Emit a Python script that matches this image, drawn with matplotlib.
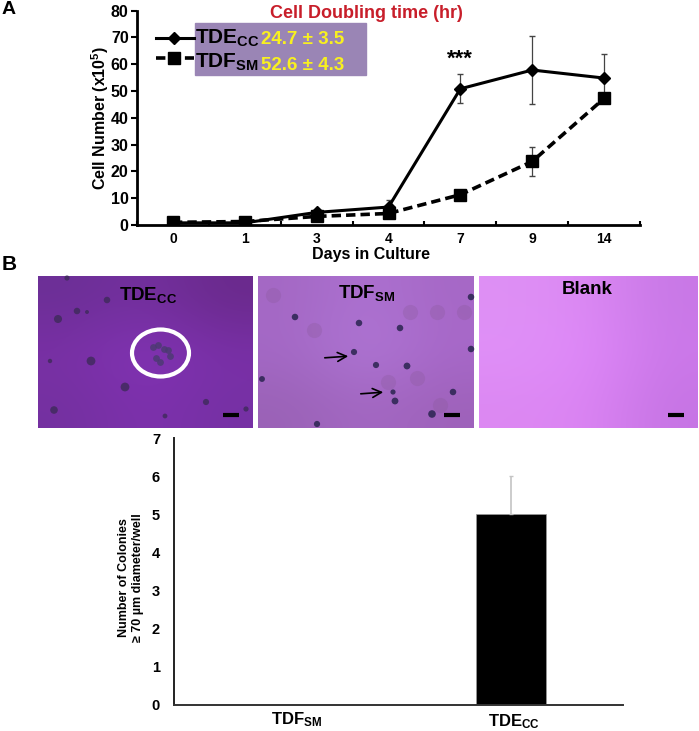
#!/usr/bin/env python3
# Cell growth figure: line chart (A), photo panels and colony bar chart (B)
import numpy as np
import matplotlib
matplotlib.use('Agg')
import matplotlib.pyplot as plt
from matplotlib.patches import Ellipse, Rectangle

plt.rcParams['font.family'] = ['Liberation Sans', 'DejaVu Sans']
plt.rcParams['font.weight'] = 'bold'
plt.rcParams['axes.labelweight'] = 'bold'
plt.rcParams['mathtext.fontset'] = 'custom'
plt.rcParams['mathtext.rm'] = 'Liberation Sans:bold'
plt.rcParams['mathtext.default'] = 'rm'

# Panel A data
days = ['0', '1', '3', '4', '7', '9', '14']
tde_cc = [0.8, 0.8, 4.7, 6.7, 50.8, 57.8, 54.8]
tde_err = [0.3, 0.3, 0.8, 2.8, 5.4, 12.8, 8.8]
tdf_sm = [1.0, 1.3, 3.2, 4.3, 11.3, 23.7, 47.2]
tdf_err = [0.3, 0.4, 0.6, 0.8, 1.0, 5.3, 1.8]

# Panel B bar data
bar_names = ['TDF$_{SM}$', 'TDE$_{CC}$']
colonies = [0, 5]
colonies_err = [0, 1]

# Photo panels, picture pixel bounds and colour corners
photo_bounds = [(38, 253), (258, 474), (479, 698)]
photo_top = 276
photo_bottom = 428
photo_colors = [
    [['#6c2f96', '#74309f', '#6a2a8c'], ['#7a30a6', '#8434b8', '#7a30a8'], ['#7430a0', '#7e30ae', '#7630a4']],
    [['#a468c4', '#ad72d2', '#a668c6'], ['#a468c6', '#b078d6', '#a868ca'], ['#9a62b6', '#a468c4', '#9e62ba']],
    [['#de90f4', '#dc88f4', '#c878e6'], ['#e090f8', '#e088fa', '#cc78ea'], ['#dc88f2', '#dc84f4', '#c674e4']],
]
# dark cells seen in the photos
cells1_x = [67, 107, 77, 87, 58, 50, 91, 125, 206, 246, 54, 165]
cells1_y = [278, 300, 311, 312, 319, 361, 361, 387, 402, 409, 410, 416]
cells1_s = [14, 22, 22, 8, 34, 10, 40, 40, 20, 14, 30, 12]
cells2_x = [295, 359, 400, 354, 376, 407, 393, 395, 432, 317, 453, 471, 471, 262]
cells2_y = [317, 323, 328, 352, 365, 366, 392, 401, 414, 424, 392, 297, 349, 379]
cells2_s = [22, 22, 22, 20, 20, 24, 14, 24, 30, 20, 22, 22, 22, 18]
faint2_x = [437, 410, 464, 388, 417, 273, 314, 440]
faint2_y = [312, 312, 312, 382, 378, 295, 330, 405]
colony_x = [153, 158, 164, 168, 156, 160, 170]
colony_y = [347, 345, 349, 350, 358, 362, 356]

W, H = 699, 731
fig = plt.figure(figsize=(W / 100, H / 100), dpi=100)


def px_axes(left, right, top, bottom):
    return fig.add_axes([left / W, 1 - bottom / H, (right - left) / W, (bottom - top) / H])


#%% Panel A
ax = px_axes(137, 640, 10.5, 225)
x = np.arange(len(days))
ax.errorbar(x, tde_cc, yerr=tde_err, color='#444444', elinewidth=0.9, capsize=2, fmt='none', zorder=2)
ax.errorbar(x, tdf_sm, yerr=tdf_err, color='#444444', elinewidth=0.9, capsize=2, fmt='none', zorder=2)
ax.plot(x, tde_cc, color='black', lw=2.2, marker='D', ms=6, zorder=3)
ax.plot(x, tdf_sm, color='black', lw=2.6, ls=(0, (2.6, 1.4)), marker='s', ms=8.5, zorder=4)
ax.set_xlim(-0.5, 6.5)
ax.set_ylim(0, 80)
ax.set_yticks(range(0, 81, 10))
ax.set_xticks(np.arange(-0.5, 7, 1), minor=True)
ax.set_xticks(x)
ax.set_xticklabels(days)
ax.tick_params(axis='x', which='major', length=0, labelsize=10, pad=5)
ax.tick_params(axis='x', which='minor', length=3, width=1.5, direction='in')
ax.tick_params(axis='y', length=4, width=1.5, labelsize=11.5, pad=2)
ax.spines['top'].set_visible(False)
ax.spines['right'].set_visible(False)
ax.spines['left'].set_linewidth(2)
ax.spines['bottom'].set_linewidth(2)
ax.set_ylabel('Cell Number (x10$^{5}$)', fontsize=11.5, labelpad=0)
ax.patch.set_alpha(0)

#%% Panel B bars
bx = px_axes(174, 623, 438, 705)
pos = np.arange(len(colonies))
bx.bar(pos, colonies, width=0.313, color='black', edgecolor='#999999', lw=0.5)
bx.errorbar(pos[1:], colonies[1:], yerr=[[0], colonies_err[1:]], color='#c4c4c4', lw=1.2, capsize=1.5, fmt='none')
bx.set_xlim(-0.5, 1.5)
bx.set_ylim(0, 7)
bx.set_yticks(range(8))
bx.set_xticks([])
bx.tick_params(axis='y', length=0, labelsize=10.5, pad=10)
bx.spines['top'].set_visible(False)
bx.spines['right'].set_visible(False)
bx.spines['left'].set_color('#222222')
bx.spines['bottom'].set_color('#333333')
bx.spines['left'].set_linewidth(1.4)
bx.spines['bottom'].set_linewidth(1.4)

#%% Overlay in picture pixels for photos, labels and legend block
ov = fig.add_axes([0, 0, 1, 1], zorder=5)
ov.set_xlim(0, W)
ov.set_ylim(H, 0)
ov.axis('off')

# legend block
ov.add_patch(Rectangle((195, 23), 171, 52, color='#9a85b5', zorder=1))
ov.plot([156, 194], [38, 38], color='black', lw=2.2, zorder=2)
ov.plot([174], [38], color='black', marker='D', ms=6, zorder=2)
ov.plot([156, 194], [58, 58], color='black', lw=2.6, ls=(0, (2.6, 1.4)), zorder=2)
ov.plot([174], [58], color='black', marker='s', ms=8.5, zorder=2)
ov.text(195, 38, 'TDE$_{CC}$', fontsize=15, va='center', ha='left', color='black', zorder=3)
ov.text(195, 62, 'TDF$_{SM}$', fontsize=15, va='center', ha='left', color='black', zorder=3)
ov.text(261, 40, '24.7 ± 3.5', fontsize=13.5, va='center', ha='left', color='#f8f020', zorder=3)
ov.text(261, 66, '52.6 ± 4.3', fontsize=13.5, va='center', ha='left', color='#f8f020', zorder=3)
ov.text(366, 13, 'Cell Doubling time (hr)', fontsize=13, va='center', ha='center', color='#c81e2a')
ov.text(460, 59, '***', fontsize=16, va='center', ha='center', color='black')
ov.text(2, 10, 'A', fontsize=14, va='center', ha='left', color='black')
ov.text(2, 265, 'B', fontsize=15, va='center', ha='left', color='black')
ov.text(371, 255, 'Days in Culture', fontsize=11.5, va='center', ha='center', color='black')

# photos
for bounds, colors in zip(photo_bounds, photo_colors):
    grid = np.array([[matplotlib.colors.to_rgb(c) for c in row] for row in colors])
    ov.imshow(grid, extent=(bounds[0], bounds[1], photo_bottom, photo_top), interpolation='bicubic',
              aspect='auto', zorder=1)
    # scale bar
    ov.plot([bounds[1] - 30, bounds[1] - 14], [415, 415], color='black', lw=3, solid_capstyle='butt', zorder=3)
ov.set_xlim(0, W)
ov.set_ylim(H, 0)

ov.scatter(cells1_x, cells1_y, s=cells1_s, color='#3a2a55', alpha=0.75, lw=0, zorder=2)
ov.scatter(cells2_x, cells2_y, s=cells2_s, color='#2a2450', alpha=0.85, lw=0, zorder=2)
ov.scatter(faint2_x, faint2_y, s=120, color='#8a5a9a', alpha=0.3, lw=0, zorder=2)
ov.scatter(colony_x, colony_y, s=24, color='#4a3a70', alpha=0.8, lw=0, zorder=2)
ov.add_patch(Ellipse((160.5, 353), 57, 47, fill=False, ec='white', lw=3, zorder=3))
ov.annotate('', xy=(351, 356), xytext=(322, 358),
            arrowprops=dict(arrowstyle='->', color='black', lw=1.2, mutation_scale=16), zorder=3)
ov.annotate('', xy=(386, 392), xytext=(358, 394),
            arrowprops=dict(arrowstyle='->', color='black', lw=1.2, mutation_scale=16), zorder=3)
ov.text(148, 295, 'TDE$_{CC}$', fontsize=13.5, va='center', ha='center', color='black', zorder=4)
ov.text(367, 293, 'TDF$_{SM}$', fontsize=13.5, va='center', ha='center', color='black', zorder=4)
ov.text(587, 290, 'Blank', fontsize=13.5, va='center', ha='center', color='black', zorder=4)

# bar chart labels
ov.text(297, 720, bar_names[0], fontsize=12, va='center', ha='center', color='black')
ov.text(514, 722, bar_names[1], fontsize=12, va='center', ha='center', color='black')
ov.text(131, 578, 'Number of Colonies\n≥ 70 µm diameter/well', fontsize=9, rotation=90, va='center', ha='center',
        linespacing=1.25, color='black')

fig.savefig('out.png', dpi=100)
